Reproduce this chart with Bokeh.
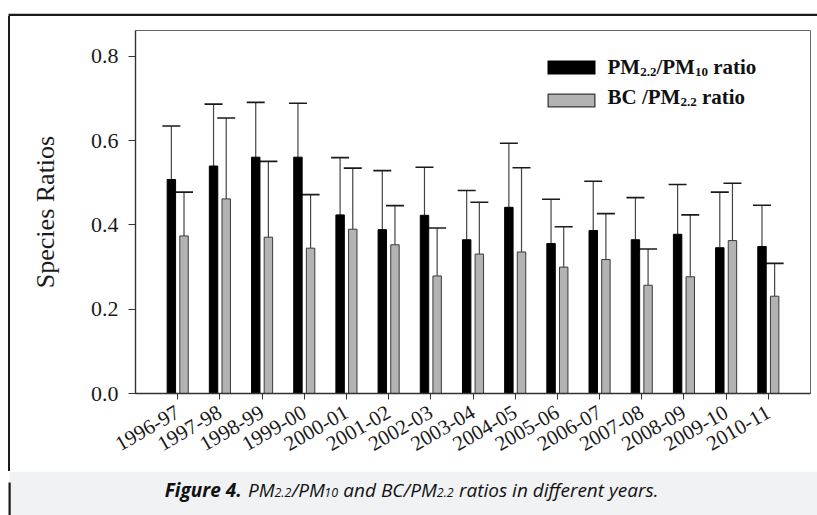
import math
from bokeh.plotting import figure
from bokeh.layouts import column, row
from bokeh.models import (ColumnDataSource, Range1d, FixedTicker, Whisker, TeeHead,
                          Label, BoxAnnotation, PrintfTickFormatter, Spacer)
from bokeh.transform import dodge
from bokeh.embed import file_html
from bokeh.resources import INLINE

# ---------------- data ----------------
years = ["1996-97", "1997-98", "1998-99", "1999-00", "2000-01", "2001-02", "2002-03",
         "2003-04", "2004-05", "2005-06", "2006-07", "2007-08", "2008-09", "2009-10", "2010-11"]
pm_ratio = [0.508, 0.540, 0.561, 0.561, 0.424, 0.389, 0.423, 0.365, 0.442, 0.356,
            0.387, 0.365, 0.378, 0.346, 0.349]
pm_sd = [0.127, 0.147, 0.130, 0.128, 0.136, 0.140, 0.114, 0.117, 0.152, 0.105,
         0.117, 0.100, 0.118, 0.132, 0.098]
bc_ratio = [0.374, 0.462, 0.371, 0.345, 0.390, 0.353, 0.279, 0.331, 0.336, 0.300,
            0.318, 0.257, 0.277, 0.363, 0.231]
bc_sd = [0.104, 0.192, 0.180, 0.127, 0.145, 0.093, 0.114, 0.123, 0.200, 0.096,
         0.109, 0.086, 0.147, 0.136, 0.078]
y_ticks = [0.0, 0.2, 0.4, 0.6, 0.8]

xs = list(range(len(years)))
src = ColumnDataSource(dict(
    x=xs, pm=pm_ratio, bc=bc_ratio,
    pm_hi=[v + s for v, s in zip(pm_ratio, pm_sd)],
    bc_hi=[v + s for v, s in zip(bc_ratio, bc_sd)],
))

serif = "Liberation Serif"
PAGE_W = 817
TOP_H = 16          # top strip (holds the black rule)
LEFT_W = 10         # left strip (holds the black rule)
CAP_H = 44          # caption band
MAIN_W = PAGE_W - LEFT_W
MAIN_H = 515 - TOP_H - CAP_H
TEXT_DY = -7        # empirical baseline correction for labels

# frame position of the main chart in page pixels
F_LEFT, F_RIGHT, F_TOP, F_BOTTOM = 135, 810, 30, 393


def strip(w, h, bg="white"):
    f = figure(width=w, height=h, x_axis_type=None, y_axis_type=None,
               toolbar_location=None, output_backend="svg", min_border=0,
               x_range=Range1d(0, 1), y_range=Range1d(0, 1))
    f.outline_line_color = None
    f.background_fill_color = bg
    f.border_fill_color = bg
    return f


def sbox(f, l, t, r, b, color, h):
    # l, r: pixels from the left of f; t, b: pixels from the top of f
    f.add_layout(BoxAnnotation(left=l, right=r, top=h - t, bottom=h - b,
                               left_units="screen", right_units="screen",
                               top_units="screen", bottom_units="screen",
                               fill_color=color, fill_alpha=1, line_color=None))


# ---------------- main chart ----------------
p = figure(width=MAIN_W, height=MAIN_H, output_backend="svg", toolbar_location=None,
           x_range=Range1d(-1, len(years)), y_range=Range1d(0, 0.8617),
           min_border_left=F_LEFT - LEFT_W, min_border_right=MAIN_W - (F_RIGHT - LEFT_W),
           min_border_top=F_TOP - TOP_H, min_border_bottom=MAIN_H - (F_BOTTOM - TOP_H))
p.background_fill_color = "white"
p.border_fill_color = "white"
p.outline_line_color = "#666666"
p.outline_line_width = 1
p.xgrid.visible = False
p.ygrid.visible = False

p.vbar(x=dodge("x", -0.15, range=p.x_range), top="pm", width=0.2, bottom=0, source=src,
       fill_color="black", line_color="black", line_width=1)
p.vbar(x=dodge("x", 0.15, range=p.x_range), top="bc", width=0.2, bottom=0, source=src,
       fill_color="#b3b3b3", line_color="#3a3a3a", line_width=1)

for off, lo, hi in [(-0.15, "pm", "pm_hi"), (0.15, "bc", "bc_hi")]:
    p.add_layout(Whisker(source=src, base=dodge("x", off, range=p.x_range), lower=lo, upper=hi,
                         dimension="height", lower_head=None,
                         upper_head=TeeHead(size=18, line_color="#1a1a1a", line_width=1.6),
                         line_color="#444444", line_width=1.2))

p.xaxis.ticker = FixedTicker(ticks=xs)
p.xaxis.major_label_overrides = {i: y for i, y in enumerate(years)}
p.xaxis.major_label_orientation = math.pi / 6
p.xaxis.major_label_text_font = serif
p.xaxis.major_label_text_font_size = "21px"
p.xaxis.major_label_text_color = "#1a1a1a"
p.xaxis.major_label_standoff = 11
p.xaxis.minor_tick_line_color = None
p.xaxis.major_tick_in = 0
p.xaxis.major_tick_out = 6
p.xaxis.axis_line_color = "#333333"
p.xaxis.axis_line_width = 1.4
p.xaxis.major_tick_line_color = "#333333"

p.yaxis.ticker = FixedTicker(ticks=y_ticks)
p.yaxis.formatter = PrintfTickFormatter(format="%.1f")
p.yaxis.major_label_text_font = serif
p.yaxis.major_label_text_font_size = "22px"
p.yaxis.major_label_text_color = "#1a1a1a"
p.yaxis.major_label_standoff = 10
p.yaxis.minor_tick_line_color = None
p.yaxis.major_tick_in = 0
p.yaxis.major_tick_out = 7
p.yaxis.axis_line_color = "#333333"
p.yaxis.axis_line_width = 1.4
p.yaxis.major_tick_line_color = "#333333"
p.yaxis.axis_label = "Species Ratios"
p.yaxis.axis_label_text_font = serif
p.yaxis.axis_label_text_font_size = "26px"
p.yaxis.axis_label_text_font_style = "normal"
p.yaxis.axis_label_text_color = "#1a1a1a"
p.yaxis.axis_label_standoff = 28


def msx(px):   # page x -> main-frame screen x
    return px - F_LEFT


def msy(py):   # page y -> main-frame screen y (up)
    return F_BOTTOM - py


def mbox(l, t, r, b, color):
    p.add_layout(BoxAnnotation(left=msx(l), right=msx(r), top=msy(t), bottom=msy(b),
                               left_units="screen", right_units="screen",
                               top_units="screen", bottom_units="screen",
                               fill_color=color, fill_alpha=1, line_color=None))


# rough advance widths (em) for placing runs of text
TNR_B = {"P": .611, "M": .944, "2": .5, ".": .25, "/": .278, "1": .5, "0": .5, " ": .25,
         "r": .444, "a": .5, "t": .333, "i": .278, "o": .5, "B": .667, "C": .722}
OS_I = {"F": .52, "i": .25, "g": .53, "u": .59, "r": .39, "e": .53, " ": .26, "4": .56,
        ".": .26, "P": .55, "M": .84, "2": .56, "/": .33, "1": .56, "0": .56, "a": .56,
        "n": .59, "d": .59, "B": .60, "C": .60, "t": .34, "o": .58, "s": .45, "f": .31,
        "y": .48}


def width(text, size, table, k=1.0):
    return sum(table.get(c, 0.5) for c in text) * size * k


def run(fig, tx, ty, x0, y0, pieces, font, table, kbold=1.0):
    x = x0
    for text, size, style, dy in pieces:
        k = kbold if "bold" in style else 1.0
        lead = len(text) - len(text.lstrip(" "))
        x += width(" " * lead, size, table, k)
        t = text.strip(" ")
        fig.add_layout(Label(x=tx(x), y=ty(y0 + dy + TEXT_DY), x_units="screen", y_units="screen",
                             text=t, text_font=font, text_font_size=f"{size}px",
                             text_font_style=style, text_color="#111111",
                             text_align="left", text_baseline="alphabetic"))
        x += width(t, size, table, k)
    return x


# legend
mbox(547, 60, 595, 74, "black")
mbox(547, 93, 595, 107, "#3a3a3a")
mbox(548.3, 94.3, 593.7, 105.7, "#b3b3b3")
run(p, msx, msy, 607, 73, [("PM", 21, "bold", 0), ("2.2", 13, "bold", 5), ("/PM", 21, "bold", 0),
                           ("10", 13, "bold", 5), (" ratio", 21, "bold", 0)], serif, TNR_B)
run(p, msx, msy, 607, 103, [("BC /PM", 21, "bold", 0), ("2.2", 13, "bold", 5),
                            (" ratio", 21, "bold", 0)], serif, TNR_B)

# ---------------- frame strips ----------------
top = strip(PAGE_W, TOP_H)
sbox(top, 8, 13.3, PAGE_W, 15.6, "#1a1a1a", TOP_H)

left_pad = Spacer(width=8, height=MAIN_H)
left_rule = Spacer(width=2, height=MAIN_H, styles={"background-color": "#1a1a1a"})

cap = strip(PAGE_W, CAP_H)
sbox(cap, 9, 0, PAGE_W, CAP_H, "#f1f2f4", CAP_H)
sbox(cap, 8, 11, 10.2, CAP_H, "#1a1a1a", CAP_H)

cap_pieces = [("Figure 4.", 19, "bold italic", 0), (" PM", 19, "italic", 0),
              ("2.2", 12.5, "italic", 3), ("/PM", 19, "italic", 0), ("10", 12.5, "italic", 3),
              (" and BC/PM", 19, "italic", 0), ("2.2", 12.5, "italic", 3),
              (" ratios in different years.", 19, "italic", 0)]
total = sum(width(t, s, OS_I, 1.06 if "bold" in st else 1.0) for t, s, st, d in cap_pieces)
run(cap, lambda px: px, lambda py: 515 - py, 413 - total / 2, 496, cap_pieces,
    "Open Sans", OS_I, kbold=1.06)

layout = column(top, row(left_pad, left_rule, p, spacing=0), cap, spacing=0)
open("out.html", "w").write(file_html(layout, INLINE))
